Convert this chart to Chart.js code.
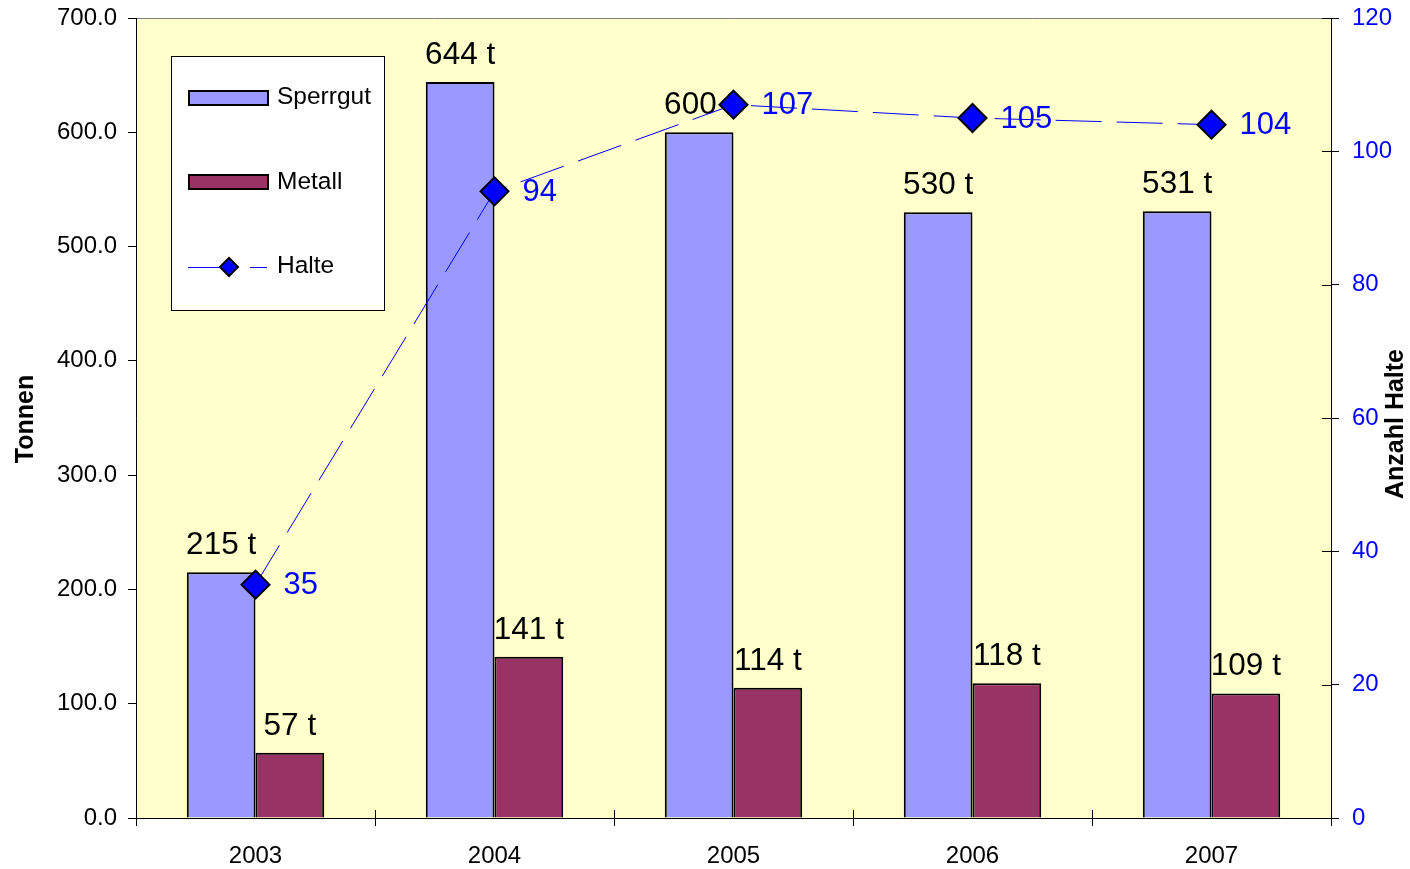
<!DOCTYPE html>
<html><head><meta charset="utf-8">
<script src="https://cdn.jsdelivr.net/npm/chart.js@4.4.0/dist/chart.umd.min.js"></script>
<style>html,body{margin:0;padding:0;background:#fff;}canvas{display:block;}</style>
</head><body>
<canvas id="c" width="1410" height="869"></canvas>
<script>
const years = ['2003','2004','2005','2006','2007'];
const sperrgut = [215,644,600,530,531];
const metall = [57,141,114,118,109];
const halte = [35,94,107,105,104];
const seriesNames = ['Sperrgut','Metall','Halte'];
const axisTitles = ['Tonnen','Anzahl Halte'];

const FONT = "'Liberation Sans', Arial, sans-serif";
const BLUE = '#0000FF';

const bgPlugin = {
  id:'bg',
  beforeDraw(chart){
    const {ctx, chartArea:a} = chart;
    ctx.save();
    ctx.fillStyle='#FFFFCC';
    ctx.fillRect(a.left,a.top,a.right-a.left,a.bottom-a.top);
    ctx.strokeStyle='#808080'; ctx.lineWidth=1;
    ctx.beginPath(); ctx.moveTo(a.left,Math.round(a.top)+0.5); ctx.lineTo(a.right,Math.round(a.top)+0.5); ctx.stroke();
    ctx.restore();
  }
};

const labelPlugin = {
  id:'labels',
  beforeDatasetsDraw(chart){
    const ctx=chart.ctx; ctx.save();
    ctx.font = '31.5px ' + FONT;
    [0,1].forEach(di=>{
      const meta = chart.getDatasetMeta(di);
      meta.data.forEach((bar,i)=>{
        ctx.fillStyle='#000'; ctx.textAlign='center'; ctx.textBaseline='alphabetic';
        ctx.fillText(chart.data.datasets[di].data[i]+' t', bar.x, bar.y-18);
      });
    });
    ctx.font = '31px ' + FONT;
    const lm = chart.getDatasetMeta(2);
    lm.data.forEach((p,i)=>{
      ctx.fillStyle=BLUE; ctx.textAlign='left'; ctx.textBaseline='middle';
      ctx.fillText(String(chart.data.datasets[2].data[i]), p.x+28, p.y+1);
    });
    ctx.restore();
  }
};

const decoPlugin = {
  id:'deco',
  afterDraw(chart){
    const ctx=chart.ctx; const a=chart.chartArea; const ds=chart.data.datasets;
    ctx.save();
    const y1=chart.scales.y1;
    ctx.strokeStyle='#000'; ctx.lineWidth=1;
    y1.ticks.forEach((t,i)=>{
      const py=Math.round(y1.getPixelForTick(i))+0.5;
      ctx.beginPath(); ctx.moveTo(a.right-9,py); ctx.lineTo(a.right,py); ctx.stroke();
    });
    const n=chart.data.labels.length;
    for(let i=1;i<n;i++){
      const px=Math.round(a.left+(a.right-a.left)*i/n)+0.5;
      ctx.beginPath(); ctx.moveTo(px,a.bottom-8); ctx.lineTo(px,a.bottom); ctx.stroke();
    }
    ctx.fillStyle='#000'; ctx.font='bold 25px '+FONT; ctx.textAlign='center'; ctx.textBaseline='middle';
    ctx.save(); ctx.translate(26,(a.top+a.bottom)/2+1); ctx.rotate(-Math.PI/2); ctx.fillText(axisTitles[0],0,0); ctx.restore();
    ctx.save(); ctx.translate(1396,(a.top+a.bottom)/2+6); ctx.rotate(-Math.PI/2); ctx.fillText(axisTitles[1],0,0); ctx.restore();
    ctx.fillStyle='#fff'; ctx.fillRect(171,56,214,255);
    ctx.strokeStyle='#000'; ctx.lineWidth=1; ctx.strokeRect(171.5,56.5,213,254);
    ctx.lineWidth=2;
    ctx.fillStyle=ds[0].backgroundColor; ctx.fillRect(189,91,79,14); ctx.strokeRect(189,91,79,14);
    ctx.fillStyle=ds[1].backgroundColor; ctx.fillRect(189,175,79,14); ctx.strokeRect(189,175,79,14);
    ctx.strokeStyle=BLUE; ctx.lineWidth=1;
    ctx.beginPath(); ctx.moveTo(188,267.5); ctx.lineTo(238,267.5); ctx.moveTo(250,267.5); ctx.lineTo(267,267.5); ctx.stroke();
    ctx.beginPath(); ctx.moveTo(220,267); ctx.lineTo(229,258); ctx.lineTo(238,267); ctx.lineTo(229,276); ctx.closePath();
    ctx.fillStyle=BLUE; ctx.fill(); ctx.strokeStyle='#000'; ctx.lineWidth=2; ctx.stroke();
    ctx.fillStyle='#000'; ctx.font='24.5px '+FONT; ctx.textAlign='left'; ctx.textBaseline='middle';
    ctx.fillText(ds[0].label,277,97); ctx.fillText(ds[1].label,277,182); ctx.fillText(ds[2].label,277,266);
    ctx.restore();
  }
};

function noPad(s){ s.paddingTop=0; s.paddingBottom=0; s.paddingLeft=0; s.paddingRight=0; }

new Chart(document.getElementById('c'), {
  type:'bar',
  data:{
    labels: years,
    datasets:[
      {label:seriesNames[0], data:sperrgut, backgroundColor:'#9999FF', borderColor:'#000', borderWidth:2, yAxisID:'y', order:1, categoryPercentage:0.575, barPercentage:1},
      {label:seriesNames[1], data:metall, backgroundColor:'#993366', borderColor:'#000', borderWidth:2, yAxisID:'y', order:1, categoryPercentage:0.575, barPercentage:1},
      {type:'line', label:seriesNames[2], data:halte, yAxisID:'y1', order:0, borderColor:BLUE, borderWidth:1, borderDash:[46,15], fill:false, tension:0,
       pointStyle:'rectRot', pointRadius:14, pointHoverRadius:14, pointBackgroundColor:BLUE, pointBorderColor:'#000', pointBorderWidth:2}
    ]
  },
  options:{
    responsive:false, animation:false,
    layout:{padding:{top:18,left:0,right:0,bottom:0}},
    plugins:{legend:{display:false}, tooltip:{enabled:false}},
    scales:{
      x:{
        grid:{offset:true, drawOnChartArea:false, drawTicks:true, tickLength:8, color:'#000', tickColor:'#000'},
        border:{display:true,color:'#000',width:1},
        ticks:{font:{size:24,family:FONT}, color:'#000', padding:16},
        afterFit(s){ s.height=51; noPad(s); }
      },
      y:{
        position:'left', min:0, max:700,
        ticks:{stepSize:100, callback:v=>Number(v).toFixed(1), font:{size:24,family:FONT}, color:'#000', padding:11},
        grid:{drawOnChartArea:false, tickLength:8, color:'#000', tickColor:'#000'},
        border:{display:true,color:'#000',width:1},
        afterFit(s){ s.width=136; noPad(s); }
      },
      y1:{
        position:'right', min:0, max:120,
        ticks:{stepSize:20, font:{size:24,family:FONT}, color:BLUE, padding:13},
        grid:{drawOnChartArea:false, tickLength:8, color:'#000', tickColor:'#000'},
        border:{display:true,color:'#000',width:1},
        afterFit(s){ s.width=79; noPad(s); }
      }
    }
  },
  plugins:[bgPlugin,labelPlugin,decoPlugin]
});
</script>
</body></html>
